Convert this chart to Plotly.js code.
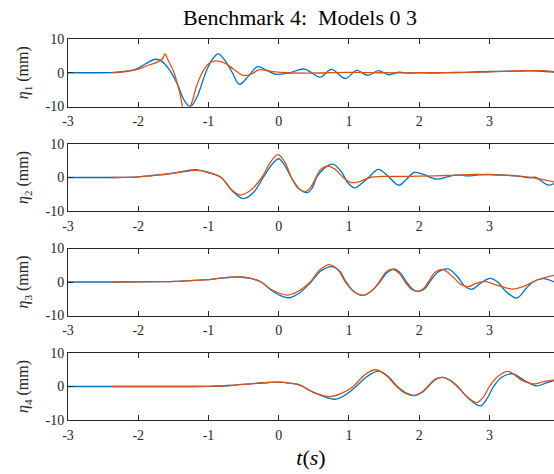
<!DOCTYPE html>
<html>
<head>
<meta charset="utf-8">
<script src="https://cdn.plot.ly/plotly-3.0.1.min.js"></script>
<style>html,body{margin:0;padding:0;background:#fff;}#chart{width:554px;height:474px;}</style>
</head>
<body>
<div id="chart"></div>
<script>
// Model 0 (blue) and Model 3 (orange) free-surface elevation, mm, vs time t (s)
const xTicks = [-3, -2, -1, 0, 1, 2, 3];
const yTicks = [-10, 0, 10];
const seriesNames = ['Model 0', 'Model 3'];

const t1b = [-3,-2.6,-2.4,-2.2,-2.04,-1.9,-1.75,-1.66,-1.56,-1.44,-1.35,-1.26,-1.17,-1.04,-0.95,-0.86,-0.76,-0.66,-0.56,-0.43,-0.30,-0.17,-0.04,0.15,0.37,0.59,0.75,0.95,1.11,1.27,1.42,1.57,1.71,1.85,2.0,2.2,2.4,2.6,2.85,3.1,3.4,3.7,3.92];
const y1b = [0,0,0.05,0.4,1.0,2.6,4.0,3.3,1.0,-3.5,-8,-10,-7.5,0,3.8,5.6,3.5,0,-3.4,-1.0,1.8,0.7,-0.45,0.0,1.1,-1.3,1.0,-1.7,0.7,-0.8,0.6,-0.6,0.2,-0.1,0.05,-0.1,0.05,0.1,0.3,0.4,0.5,0.5,0.2];
const t1o = [-2.37,-2.2,-2.0,-1.85,-1.72,-1.65,-1.62,-1.58,-1.49,-1.42,-1.33,-1.25,-1.17,-1.09,-1.0,-0.9,-0.78,-0.65,-0.5,-0.38,-0.28,-0.1,0.1,0.4,1.0,1.5,2.0,2.5,2.9,3.2,3.5,3.75,3.92];
const y1o = [0,0.3,1.1,2.3,3.2,4.3,5.6,4.0,0,-5,-12,-9.5,-4,0,2.7,3.5,3.0,1.2,-0.8,-0.3,0.9,0.4,0,-0.1,0.1,0,0,0.05,0.2,0.4,0.6,0.6,0.3];

const t2b = [-3,-2.4,-2.2,-2.0,-1.8,-1.62,-1.42,-1.16,-1.0,-0.82,-0.66,-0.5,-0.36,-0.22,-0.1,0.0,0.09,0.18,0.3,0.41,0.48,0.54,0.65,0.77,0.9,0.98,1.08,1.18,1.28,1.42,1.55,1.71,1.82,1.93,2.05,2.25,2.4,2.53,2.7,2.85,3.0,3.2,3.4,3.58,3.65,3.75,3.84,3.92];
const y2b = [0,0,0.05,0.2,0.6,1.0,1.6,2.3,1.5,0,-4,-6.3,-4.5,0,3.8,5.6,3.5,0,-3.5,-4.5,-3,0,2.8,4.0,1.5,-1.5,-3.1,-1.8,0,2.4,0.5,-2.3,-0.5,1.5,1.0,-0.5,0.2,0.8,0.5,0.8,0.9,0.7,0.4,-0.1,0.1,-1.2,-2.3,-1.8];
const t2o = [-2.37,-2.2,-2.0,-1.8,-1.62,-1.42,-1.16,-1.0,-0.82,-0.68,-0.55,-0.4,-0.24,-0.12,-0.01,0.09,0.18,0.28,0.38,0.46,0.53,0.6,0.7,0.8,0.92,1.03,1.15,1.3,1.45,1.6,2.0,2.4,2.8,3.1,3.4,3.6,3.8,3.92];
const y2o = [0,0.05,0.2,0.6,0.9,1.5,2.1,1.4,0,-3.5,-5.2,-3.8,0,4.5,6.8,4.5,0,-3.3,-4.2,-2.8,0,2.5,3.4,2.5,0,-1.5,-1.2,0,0.3,0.3,0.4,0.6,0.9,0.8,0.5,0,-0.8,-1.3];

const t3b = [-3,-2.4,-2.0,-1.7,-1.47,-1.2,-0.96,-0.75,-0.56,-0.4,-0.25,-0.1,0.0,0.15,0.3,0.46,0.6,0.76,0.87,0.96,1.08,1.21,1.33,1.44,1.54,1.65,1.74,1.82,1.92,2.0,2.08,2.15,2.27,2.41,2.55,2.65,2.75,2.88,3.01,3.12,3.22,3.39,3.52,3.62,3.76,3.92];
const y3b = [0,0,0.02,0.1,0.2,0.5,0.8,1.3,1.5,1.1,0,-2.5,-3.8,-4.7,-3.2,0,3.3,4.6,3.2,0,-3,-4.0,-2.5,0,2.8,3.8,2.5,0,-2.3,-2.8,-2,0,3,3.9,1.5,-1.3,-2.2,-0.3,1.1,0,-2.5,-4.8,-2,0,1.0,0];
const t3o = [-2.37,-2.0,-1.7,-1.47,-1.2,-0.96,-0.75,-0.56,-0.4,-0.25,-0.1,0.13,0.3,0.45,0.58,0.72,0.85,0.95,1.08,1.21,1.33,1.43,1.52,1.62,1.72,1.80,1.9,1.98,2.06,2.13,2.23,2.34,2.48,2.6,2.7,2.8,2.93,3.1,3.34,3.5,3.68,3.92];
const y3o = [0,0.02,0.1,0.2,0.5,0.8,1.3,1.5,1.1,0,-2.3,-3.9,-2.5,0,3.5,5.2,3.5,0,-3,-4.0,-2.5,0,2.8,3.8,2.5,0,-2.3,-2.8,-2,0,3,3.7,1.5,-0.8,-1.4,-0.5,0.2,-0.9,-2.1,-1.2,0.6,2.0];

const t4b = [-3,-2.4,-1.5,-1.0,-0.7,-0.4,-0.15,0.0,0.15,0.3,0.5,0.8,0.95,1.1,1.26,1.42,1.56,1.69,1.82,1.94,2.04,2.13,2.24,2.34,2.45,2.55,2.7,2.87,2.97,3.06,3.17,3.32,3.5,3.67,3.8,3.92];
const y4b = [0,0,0,0.05,0.3,0.8,1.2,1.3,1.0,0.4,-1.8,-3.8,-2.5,0,3.0,4.6,3.0,0,-2.0,-2.7,-1.8,0,2.2,2.7,1.8,0,-3.5,-5.8,-3.5,0,2.7,3.8,1.8,0.2,1.0,1.8];
const t4o = [-2.37,-1.5,-1.0,-0.7,-0.4,-0.15,0.0,0.15,0.3,0.45,0.72,0.9,1.06,1.22,1.38,1.53,1.68,1.8,1.92,2.03,2.12,2.23,2.33,2.44,2.54,2.68,2.82,2.92,3.0,3.12,3.27,3.45,3.63,3.78,3.92];
const y4o = [0,0,0.05,0.3,0.8,1.2,1.3,1.0,0.5,-1.3,-3.0,-2.0,0,3.4,5.0,3.3,0,-2.0,-2.7,-1.8,0,2.2,2.7,1.8,0,-3,-4.8,-3,0,3.0,4.5,2.0,0.8,1.5,1.9];

const blue = '#0072BD', orange = '#D95319';
const font = 'Liberation Serif';
const axColor = '#262626';

const sets = [[t1b,y1b,t1o,y1o],[t2b,y2b,t2o,y2o],[t3b,y3b,t3o,y3o],[t4b,y4b,t4o,y4o]];
const traces = [];
sets.forEach((s, i) => {
  const sfx = i === 0 ? '' : String(i + 1);
  traces.push({x: s[0], y: s[1], type: 'scatter', mode: 'lines', name: seriesNames[0],
    line: {color: blue, width: 1.3, shape: 'spline', smoothing: 1}, xaxis: 'x' + sfx, yaxis: 'y' + sfx, showlegend: false});
  traces.push({x: s[2], y: s[3], type: 'scatter', mode: 'lines', name: seriesNames[1],
    line: {color: orange, width: 1.3, shape: 'spline', smoothing: 1}, xaxis: 'x' + sfx, yaxis: 'y' + sfx, showlegend: false});
});

const H = 474, W = 554;
const boxes = [[39, 106.5], [144, 211], [248.5, 315.5], [353, 420]];
const labels = ['<i>η</i><sub>1</sub> (mm)', '<i>η</i><sub>2</sub> (mm)', '<i>η</i><sub>3</sub> (mm)', '<i>η</i><sub>4</sub> (mm)'];
const layout = {
  width: W, height: H,
  margin: {l: 0, r: 0, t: 0, b: 0},
  paper_bgcolor: '#fff', plot_bgcolor: '#fff',
  font: {family: font, color: axColor, size: 14},
  title: {text: 'Benchmark 4:  Models 0 3', x: 300 / W, xanchor: 'center', xref: 'paper',
    y: 1 - 17 / H, yanchor: 'middle', yref: 'paper', font: {family: font, size: 22, color: '#000'}},
};
boxes.forEach((b, i) => {
  const sfx = i === 0 ? '' : String(i + 1);
  const xa = {
    domain: [68 / W, 1], range: [-3, 3.92], anchor: 'y' + sfx,
    tickvals: xTicks, ticktext: xTicks.map(String), ticks: 'inside', ticklen: 5, tickwidth: 1, tickcolor: axColor,
    showline: true, linecolor: axColor, linewidth: 1, mirror: 'ticks', showgrid: false, zeroline: false,
    tickfont: {family: font, size: 14, color: axColor}, automargin: false, ticklabelstandoff: 2
  };
  if (i === 3) xa.title = {text: '<i>t</i>(<i>s</i>)', font: {family: font, size: 22, color: '#000'}, standoff: 7};
  layout['xaxis' + sfx] = xa;
  layout['yaxis' + sfx] = {
    domain: [1 - b[1] / H, 1 - b[0] / H], range: [-10, 10], anchor: 'x' + sfx,
    tickvals: yTicks, ticktext: ['-10', '0', '10'], ticks: 'inside', ticklen: 5, tickwidth: 1, tickcolor: axColor,
    showline: true, linecolor: axColor, linewidth: 1, mirror: false, showgrid: false, zeroline: false,
    tickfont: {family: font, size: 14, color: axColor}, automargin: false,
    title: {text: labels[i], font: {family: font, size: 16, color: axColor}, standoff: 12}
  };
});

Plotly.newPlot('chart', traces, layout, {staticPlot: true, displayModeBar: false});
</script>
</body>
</html>
